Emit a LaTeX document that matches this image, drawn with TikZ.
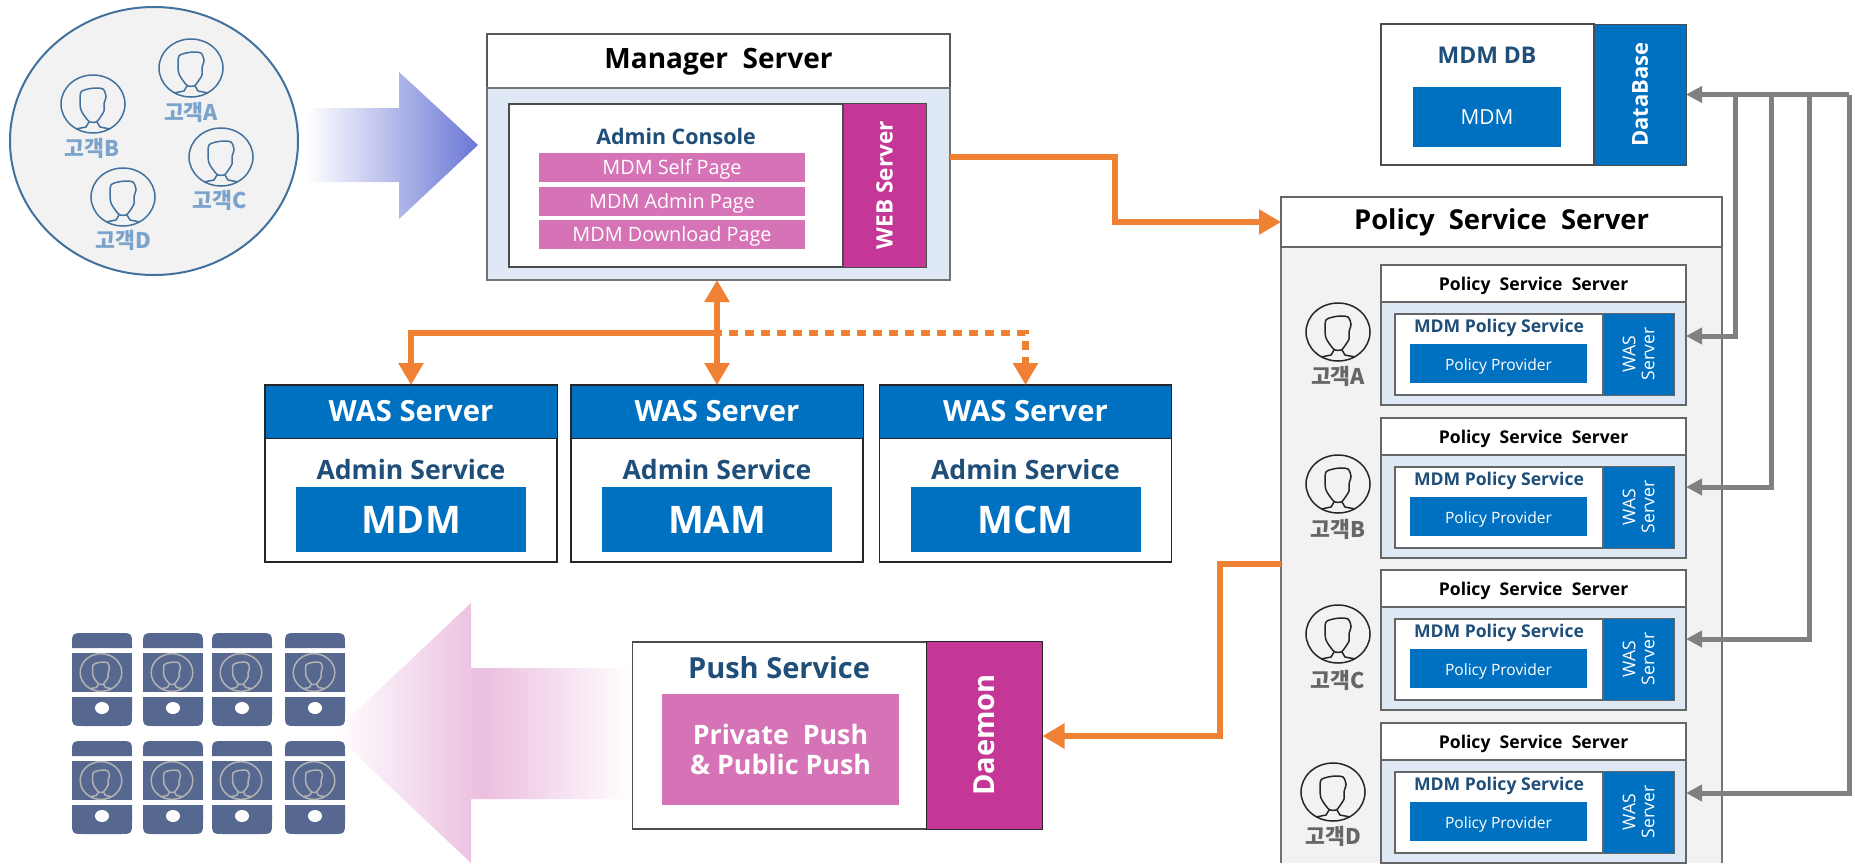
\documentclass[tikz,border=0pt]{standalone}
\usepackage{fontspec}
\setmainfont{Open Sans}
\newfontfamily\cjk{Noto Sans CJK KR}
\usetikzlibrary{arrows.meta,calc,positioning}
\definecolor{bodyblue}{HTML}{DEE9F5}
\definecolor{wasblue}{HTML}{0070C0}
\definecolor{webpink}{HTML}{C43797}
\definecolor{barpink}{HTML}{D672B6}
\definecolor{navy}{HTML}{1F4E79}
\definecolor{lineorange}{HTML}{F08033}
\definecolor{linegrey}{HTML}{808080}
\definecolor{arrowblue}{HTML}{6A77D4}
\definecolor{arrowpink}{HTML}{EBBEDF}
\definecolor{phoneblue}{HTML}{56688F}
\definecolor{ringblue}{HTML}{41719C}
\definecolor{labelblue}{HTML}{7BA3CC}
\newcommand{\xfs}[1]{\fontsize{#1}{#1}\selectfont}
% one head in a ring, at x, y with scale and colour
\newcommand{\xperson}[4]{
	\begin{scope}[shift={(#1,#2)},scale=#3,draw=#4,line width=0.75pt]
		\draw (0,0) ellipse [x radius=32,y radius=29];
		\draw plot[smooth cycle] coordinates {(-12,-12) (-5,-15) (3,-16) (10,-15) (13,-8) (11,0) (11,7) (6,15) (3,18) (-3,18) (-7,14) (-12,6) (-13,-3)};
		\draw (-4,18)--(-7,23)--(-17,25);
		\draw (4,18)--(7,23)--(17,25);
	\end{scope}
}
\tikzset{
	sz/.style 2 args={minimum width=#1*0.5pt,minimum height=#2*0.5pt,inner sep=0pt,outer sep=0pt},
	capmid/.style={text height=0.72em,text depth=0pt},
	whitebox/.style={draw=black!70,fill=white,line width=0.7pt},
	oline/.style={draw=lineorange,line width=3.3pt},
	otip/.style={-{Triangle[length=11pt,width=12pt]}},
	gline/.style={draw=linegrey,line width=2.5pt},
	gtip/.style={-{Triangle[length=8pt,width=8pt]}},
	bluetext/.style={text=navy,font=\bfseries\xfs{10.7}},
	tag/.style={text=black!60,font=\cjk\bfseries\xfs{10.8}},
}
\begin{document}
\begin{tikzpicture}[x=0.5pt,y=-0.5pt]
	\useasboundingbox (0,0) rectangle (1855,863);
	% customers
	\draw[ringblue,fill=black!5,line width=1pt] (154,141) ellipse [x radius=144,y radius=134];
	\xperson{191}{68}{1}{ringblue}
	\xperson{93}{104}{1}{ringblue}
	\xperson{221}{157}{1}{ringblue}
	\xperson{123}{197}{1}{ringblue}
	\node[tag,text=labelblue] (tagA) at(191,112) {고객A};
	\node[tag,text=labelblue] (tagB) at(92,148) {고객B};
	\node[tag,text=labelblue] (tagC) at(220,200) {고객C};
	\node[tag,text=labelblue] (tagD) at(123,240) {고객D};
	\shade[left color=white,right color=arrowblue] (307,108)--(399,108)--(399,72)--(478,145)--(399,219)--(399,182)--(307,182)--cycle;
	% manager
	\node[whitebox,sz={463}{54},capmid,draw=black!65,line width=1.3pt,font=\bfseries\xfs{14}] (mstitle) at(718.5,61) {Manager\ \ Server};
	\node[whitebox,sz={463}{192},fill=bodyblue,draw=black!55,line width=1.1pt] (msbody) at(718.5,184) {};
	\node[whitebox,sz={334}{163}] (console) at(676,185.5) {};
	\node[sz={83}{164},draw=black!70,fill=webpink,text=white,font=\bfseries\xfs{11.3}] (web) at(884.5,185) {\rotatebox{90}{WEB Server}};
	\node[bluetext] (consoletxt) at(676,136) {Admin Console};
	\node[sz={266}{29},capmid,fill=barpink,text=white,font=\xfs{9.9}] (bar1) at(672,167.5) {MDM Self Page};
	\node[sz={266}{29},capmid,fill=barpink,text=white,font=\xfs{9.9}] (bar2) at(672,201) {MDM Admin Page};
	\node[sz={266}{29},capmid,fill=barpink,text=white,font=\xfs{9.9}] (bar3) at(672,234.5) {MDM Download Page};
	% admin services
	\foreach \n/\cx/\svc in {1/411/MDM,2/717/MAM,3/1025.5/MCM}{
		\node[whitebox,sz={292}{177},draw=black!85] (was\n) at(\cx,473.5) {};
		\node[sz={292}{53},draw=black!85,fill=wasblue,text=white,font=\bfseries\xfs{14.6}] (washead\n) at(\cx,411.5) {WAS Server};
		\node[bluetext,font=\bfseries\xfs{13.3}] (wastxt\n) at(\cx,470) {Admin Service};
		\node[sz={230}{65},fill=wasblue,text=white,font=\bfseries\xfs{19}] (svc\n) at(\cx,519.5) {\svc};
	}
	% database
	\node[whitebox,sz={213}{141}] (db) at(1487.5,94.5) {};
	\node[sz={92}{141},draw=black!70,fill=wasblue,text=white,font=\bfseries\xfs{11}] (dbside) at(1640,94.5) {\rotatebox{90}{DataBase}};
	\node[bluetext,font=\bfseries\xfs{11.5}] (dbtxt) at(1487,55) {MDM DB};
	\node[sz={148}{60},fill=wasblue,text=white,font=\xfs{10.4}] (dbmdm) at(1487,117) {MDM};
	% policy
	\node[sz={441}{616},fill=black!5] (psbody) at(1501.5,555) {};
	\draw[draw=black!55,line width=1pt] (psbody.south west)--(psbody.north west)--(psbody.north east)--(psbody.south east);
	\node[whitebox,sz={441}{50},capmid,draw=black!60,line width=1pt,font=\bfseries\xfs{13.7}] (pstitle) at(1501.5,222) {Policy\ \ Service\ \ Server};
	\foreach \c/\dy/\ax/\ay/\tx/\ty in {A/0/1338/332/1338/376,B/153/1338/484/1338/529,C/305/1338/634/1338/680,D/458/1333/792/1333/836}{
		\node[whitebox,sz={305}{37},capmid,draw=black!60,font=\bfseries\xfs{8.8}] (rowtitle\c) at(1533.5,283.5+\dy) {Policy\ \ Service\ \ Server};
		\node[whitebox,sz={305}{103},draw=black!60,fill=bodyblue] (rowbody\c) at(1533.5,353.5+\dy) {};
		\node[whitebox,sz={208}{81},draw=black!60] (rowwhite\c) at(1499,354.5+\dy) {};
		\node[sz={71}{82},draw=black!60,fill=wasblue,text=white,font=\xfs{8.8}] (rowwas\c) at(1638.5,354+\dy) {\rotatebox{90}{\shortstack{WAS\\Server}}};
		\node[bluetext,font=\bfseries\xfs{8.8}] (rowtxt\c) at(1499,328+\dy) {MDM\ Policy\ Service};
		\node[sz={177}{39},capmid,fill=wasblue,text=white,font=\xfs{7.8}] (rowprov\c) at(1498.5,363.5+\dy) {Policy\ Provider};
		\xperson{\ax}{\ay}{1}{black!85}
		\node[tag] (rowtag\c) at(\tx,\ty) {고객\c};
	}
	% push
	\shade[left color=white,right color=white,middle color=arrowpink] (632,668)--(471,668)--(471,603)--(333,733)--(471,863)--(471,799)--(632,799)--cycle;
	\node[whitebox,sz={294}{187}] (push) at(779.5,735.5) {};
	\node[sz={116}{188},draw=black!85,fill=webpink,text=white,font=\bfseries\xfs{14.5}] (daemon) at(984.5,735) {\rotatebox{90}{Daemon}};
	\node[bluetext,font=\bfseries\xfs{14.5}] (pushtxt) at(779,668) {Push Service};
	\node[sz={237}{111},fill=barpink,text=white,font=\bfseries\xfs{13.4},align=center] (pushbox) at(780.5,749.5) {Private\ \ Push\\[2pt]\&\ Public Push};
	% phones
	\foreach \py in {633,741}{
		\foreach \px in {102,173,242,315}{
			\begin{scope}[shift={(\px,\py)}]
				\fill[phoneblue] (-30,15)--(-30,13) .. controls (-30,0) .. (-17,0)--(17,0) .. controls (30,0) .. (30,13)--(30,15)--cycle;
				\fill[phoneblue] (-30,20) rectangle (30,59);
				\fill[phoneblue] (-30,64)--(-30,80) .. controls (-30,93) .. (-17,93)--(17,93) .. controls (30,93) .. (30,80)--(30,64)--cycle;
				\fill[white] (0,75) ellipse [x radius=7,y radius=6];
				\xperson{-1}{39.5}{0.65}{black!30}
			\end{scope}
		}
	}
	% connectors
	\coordinate (msout) at(950,157);
	\coordinate (bendA) at(1115,157);
	\coordinate (bendB) at(1115,222);
	\draw[oline,otip] (msout)--(bendA)--(bendB)--(pstitle.west);
	\coordinate (jn) at(717,333);
	\draw[oline,{Triangle[length=11pt,width=12pt]}-{Triangle[length=11pt,width=12pt]}] (jn |- msbody.south)--(washead2.north);
	\draw[oline,otip] (jn)-|(washead1.north);
	\draw[oline,otip,dash pattern=on 4.5pt off 3.5pt,dash phase=-6pt] (jn)-|(washead3.north);
	\coordinate (psout) at(1281,564);
	\coordinate (bendC) at(1220,564);
	\coordinate (bendD) at(1220,736);
	\draw[oline,otip] (psout)--(bendC)--(bendD)--(daemon.east |- bendD);
	% database lines
	\coordinate (busA) at(1735,94.5);
	\coordinate (busB) at(1771,94.5);
	\coordinate (busC) at(1809,94.5);
	\coordinate (busD) at(1849,94.5);
	\draw[gline,gtip] (busD)--(dbside.east);
	\draw[gline,gtip] (busA)|-(rowbodyA.east |- 0,336);
	\draw[gline,gtip] (busB)|-(rowbodyB.east |- 0,487);
	\draw[gline,gtip] (busC)|-(rowbodyC.east |- 0,639);
	\draw[gline,gtip] (busD)|-(rowbodyD.east |- 0,793);
\end{tikzpicture}
\end{document}
